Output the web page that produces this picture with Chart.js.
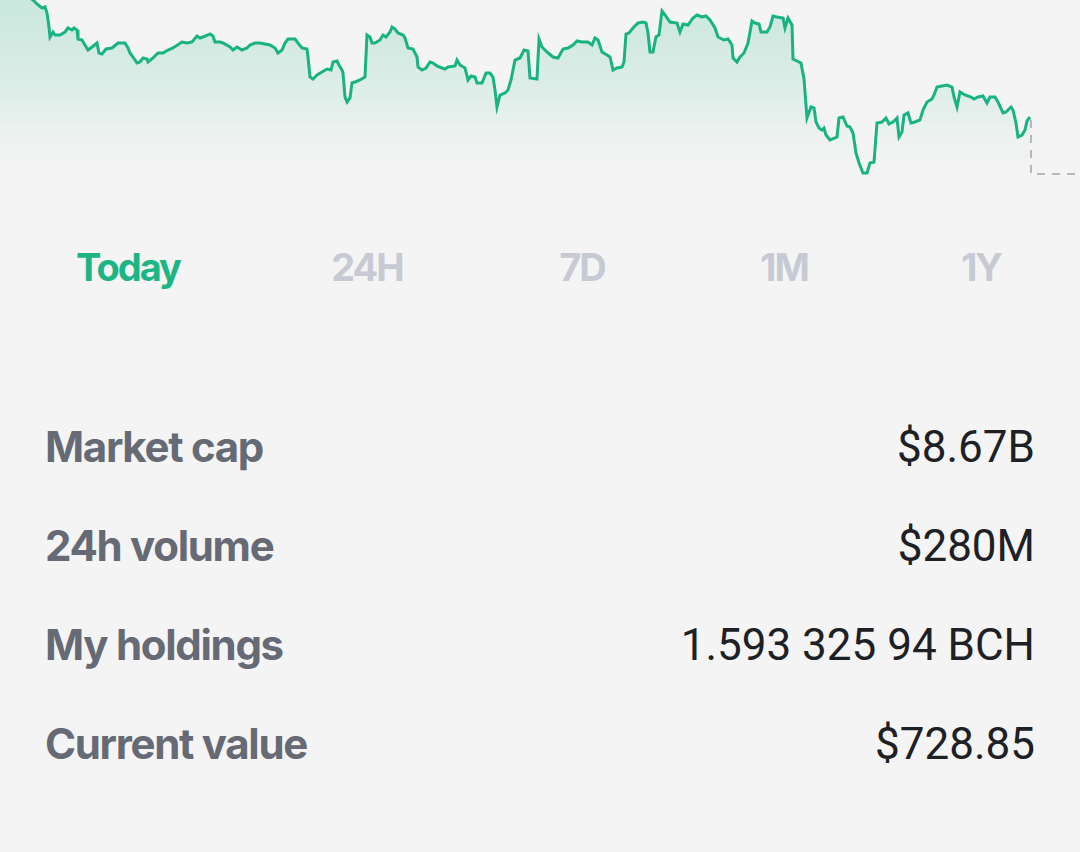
<!DOCTYPE html>
<html>
<head>
<meta charset="utf-8">
<script src="https://cdn.jsdelivr.net/npm/chart.js@4.4.1/dist/chart.umd.min.js"></script>
<style>
    html, body {
        margin: 0;
        padding: 0;
        width: 1080px;
        height: 852px;
        background: #f4f4f4;
        overflow: hidden;
    }
    #chart-wrap {
        position: absolute;
        left: 0;
        top: 0;
        width: 1080px;
        height: 200px;
    }
    .tab {
        position: absolute;
        top: 237px;
        height: 60px;
        line-height: 60px;
        transform: translateX(-50%);
        font-family: Inter, sans-serif;
        font-weight: 700;
        font-size: 38px;
        letter-spacing: -2px;
        color: #c8cad3;
    }
    .tab.active {
        color: #1db584;
    }
    .row {
        position: absolute;
        left: 45px;
        width: 990px;
        height: 60px;
        line-height: 60px;
    }
    .row .label {
        position: absolute;
        left: 0;
        font-family: Inter, sans-serif;
        font-weight: 700;
        font-size: 42px;
        letter-spacing: -1.3px;
        color: #656a74;
    }
    .row .value {
        position: absolute;
        right: 0;
        font-family: Roboto, sans-serif;
        font-weight: 400;
        font-size: 44px;
        color: #1d2025;
    }
</style>
</head>
<body>
<div id="chart-wrap"><canvas id="chart"></canvas></div>
<div id="tabs"></div>
<div id="rows"></div>
<script>
// time axis (minutes into the session, 0..1080) and price readings
const times = [
    0, 20, 33, 37, 42, 45, 47, 49, 50, 53,
    55, 60, 65, 68, 72, 74, 77, 78, 82, 85,
    88, 92, 97, 99, 102, 106, 112, 118, 125, 128,
    130, 133, 137, 140, 143, 147, 148, 153, 158, 163,
    168, 173, 182, 187, 192, 197, 200, 203, 208, 210,
    213, 215, 220, 223, 230, 233, 237, 242, 247, 250,
    255, 260, 270, 275, 278, 282, 285, 288, 295, 298,
    302, 307, 308, 310, 313, 317, 322, 327, 331, 333,
    337, 339, 342, 343, 345, 347, 350, 352, 355, 360,
    365, 367, 370, 372, 375, 380, 383, 386, 390, 392,
    395, 398, 403, 405, 408, 413, 417, 418, 422, 426,
    430, 433, 437, 442, 445, 448, 455, 457, 460, 465,
    468, 471, 475, 477, 482, 486, 490, 493, 495, 497,
    500, 505, 508, 511, 513, 515, 520, 524, 528, 530,
    537, 539, 542, 545, 548, 553, 558, 563, 568, 573,
    577, 582, 588, 592, 595, 598, 602, 607, 610, 613,
    617, 622, 624, 626, 629, 633, 638, 643, 646, 648,
    650, 653, 656, 659, 662, 665, 670, 677, 680, 683,
    688, 693, 697, 702, 706, 710, 715, 718, 724, 728,
    732, 733, 737, 740, 744, 748, 752, 755, 759, 761,
    767, 770, 773, 777, 783, 785, 788, 792, 793, 797,
    801, 804, 807, 811, 814, 816, 819, 822, 824, 826,
    830, 835, 837, 839, 843, 847, 850, 853, 856, 859,
    863, 867, 870, 874, 877, 882, 886, 889, 893, 897,
    899, 902, 904, 908, 911, 915, 920, 923, 927, 932,
    934, 937, 942, 947, 952, 954, 957, 960, 965, 971,
    974, 978, 983, 987, 990, 995, 998, 1003, 1006, 1011,
    1013, 1016, 1018, 1022, 1025, 1027, 1030
];
const prices = [
    220, 208, 200, 196, 192, 193, 187, 173, 163, 168,
    165, 165, 168, 172, 170, 172, 170, 161, 160, 155,
    150, 153, 157, 147, 146, 151, 152, 157, 157, 152,
    147, 143, 137, 138, 142, 141, 138, 142, 147, 147,
    150, 152, 158, 157, 158, 164, 162, 163, 165, 166,
    164, 158, 158, 157, 153, 150, 153, 150, 152, 155,
    157, 157, 155, 152, 147, 150, 157, 161, 161, 157,
    152, 151, 143, 123, 121, 125, 128, 131, 130, 138,
    139, 135, 130, 127, 103, 98, 102, 117, 118, 120,
    123, 165, 163, 157, 157, 160, 165, 163, 168, 173,
    171, 167, 165, 162, 152, 151, 143, 133, 130, 132,
    138, 137, 134, 132, 131, 133, 134, 140, 135, 132,
    120, 124, 123, 117, 117, 127, 127, 123, 110, 93,
    105, 107, 110, 120, 130, 140, 142, 150, 149, 122,
    121, 161, 153, 150, 147, 143, 142, 151, 152, 155,
    159, 158, 158, 155, 162, 160, 148, 145, 143, 130,
    132, 133, 138, 166, 167, 172, 177, 178, 177, 167,
    148, 148, 163, 165, 189, 185, 178, 177, 168, 176,
    175, 182, 185, 183, 184, 180, 172, 163, 160, 161,
    155, 142, 138, 143, 147, 157, 179, 177, 176, 168,
    168, 173, 184, 183, 182, 172, 182, 175, 141, 139,
    137, 121, 82, 93, 92, 78, 72, 70, 72, 65,
    60, 62, 63, 82, 83, 74, 73, 67, 47, 37,
    27, 27, 37, 38, 77, 78, 82, 76, 78, 82,
    63, 68, 85, 87, 77, 78, 80, 90, 98, 101,
    105, 113, 114, 115, 113, 103, 93, 108, 105, 103,
    101, 103, 104, 97, 103, 103, 98, 87, 88, 93,
    90, 77, 63, 65, 70, 79, 83
];
// dashed guide from the last price to the session end
const guideTimes = [1031, 1031, 1080];
const guidePrices = [80, 26, 26];

const ranges = ['Today', '24H', '7D', '1M', '1Y'];
const rangeCenters = [128, 367, 582, 784, 981];
const statLabels = ['Market cap', '24h volume', 'My holdings', 'Current value'];
const statValues = ['$8.67B', '$280M', '1.593 325 94 BCH', '$728.85'];

const tabs = document.getElementById('tabs');
ranges.forEach((r, i) => {
    const el = document.createElement('div');
    el.className = 'tab' + (i === 0 ? ' active' : '');
    el.style.left = rangeCenters[i] + 'px';
    el.textContent = r;
    tabs.appendChild(el);
});

const rows = document.getElementById('rows');
statLabels.forEach((label, i) => {
    const row = document.createElement('div');
    row.className = 'row';
    row.style.top = (417 + i * 99) + 'px';
    row.innerHTML = '<span class="label"></span><span class="value"></span>';
    row.querySelector('.label').textContent = label;
    row.querySelector('.value').textContent = statValues[i];
    rows.appendChild(row);
});

const ctx = document.getElementById('chart').getContext('2d');
new Chart(ctx, {
    type: 'line',
    data: {
        datasets: [
            {
                label: 'BCH',
                data: times.map((t, i) => ({ x: t, y: prices[i] })),
                borderColor: '#19b282',
                borderWidth: 3,
                pointRadius: 0,
                tension: 0,
                clip: 0,
                fill: 'start',
                backgroundColor: context => {
                    const area = context.chart.chartArea;
                    if (!area) return 'rgba(29,181,132,0.15)';
                    const g = context.chart.ctx.createLinearGradient(0, area.top, 0, area.bottom);
                    g.addColorStop(0, 'rgba(29,181,132,0.20)');
                    g.addColorStop(0.5, 'rgba(29,181,132,0.09)');
                    g.addColorStop(0.95, 'rgba(244,244,244,0)');
                    return g;
                }
            },
            {
                label: 'guide',
                data: guideTimes.map((t, i) => ({ x: t, y: guidePrices[i] })),
                borderColor: '#b4b8c0',
                borderWidth: 2,
                borderDash: [8, 7],
                pointRadius: 0,
                fill: false
            }
        ]
    },
    options: {
        responsive: true,
        maintainAspectRatio: false,
        animation: false,
        layout: { padding: 0 },
        scales: {
            x: { type: 'linear', min: 0, max: 1080, display: false },
            y: { min: 0, max: 200, display: false }
        },
        plugins: {
            legend: { display: false },
            tooltip: { enabled: false }
        }
    }
});
</script>
</body>
</html>
